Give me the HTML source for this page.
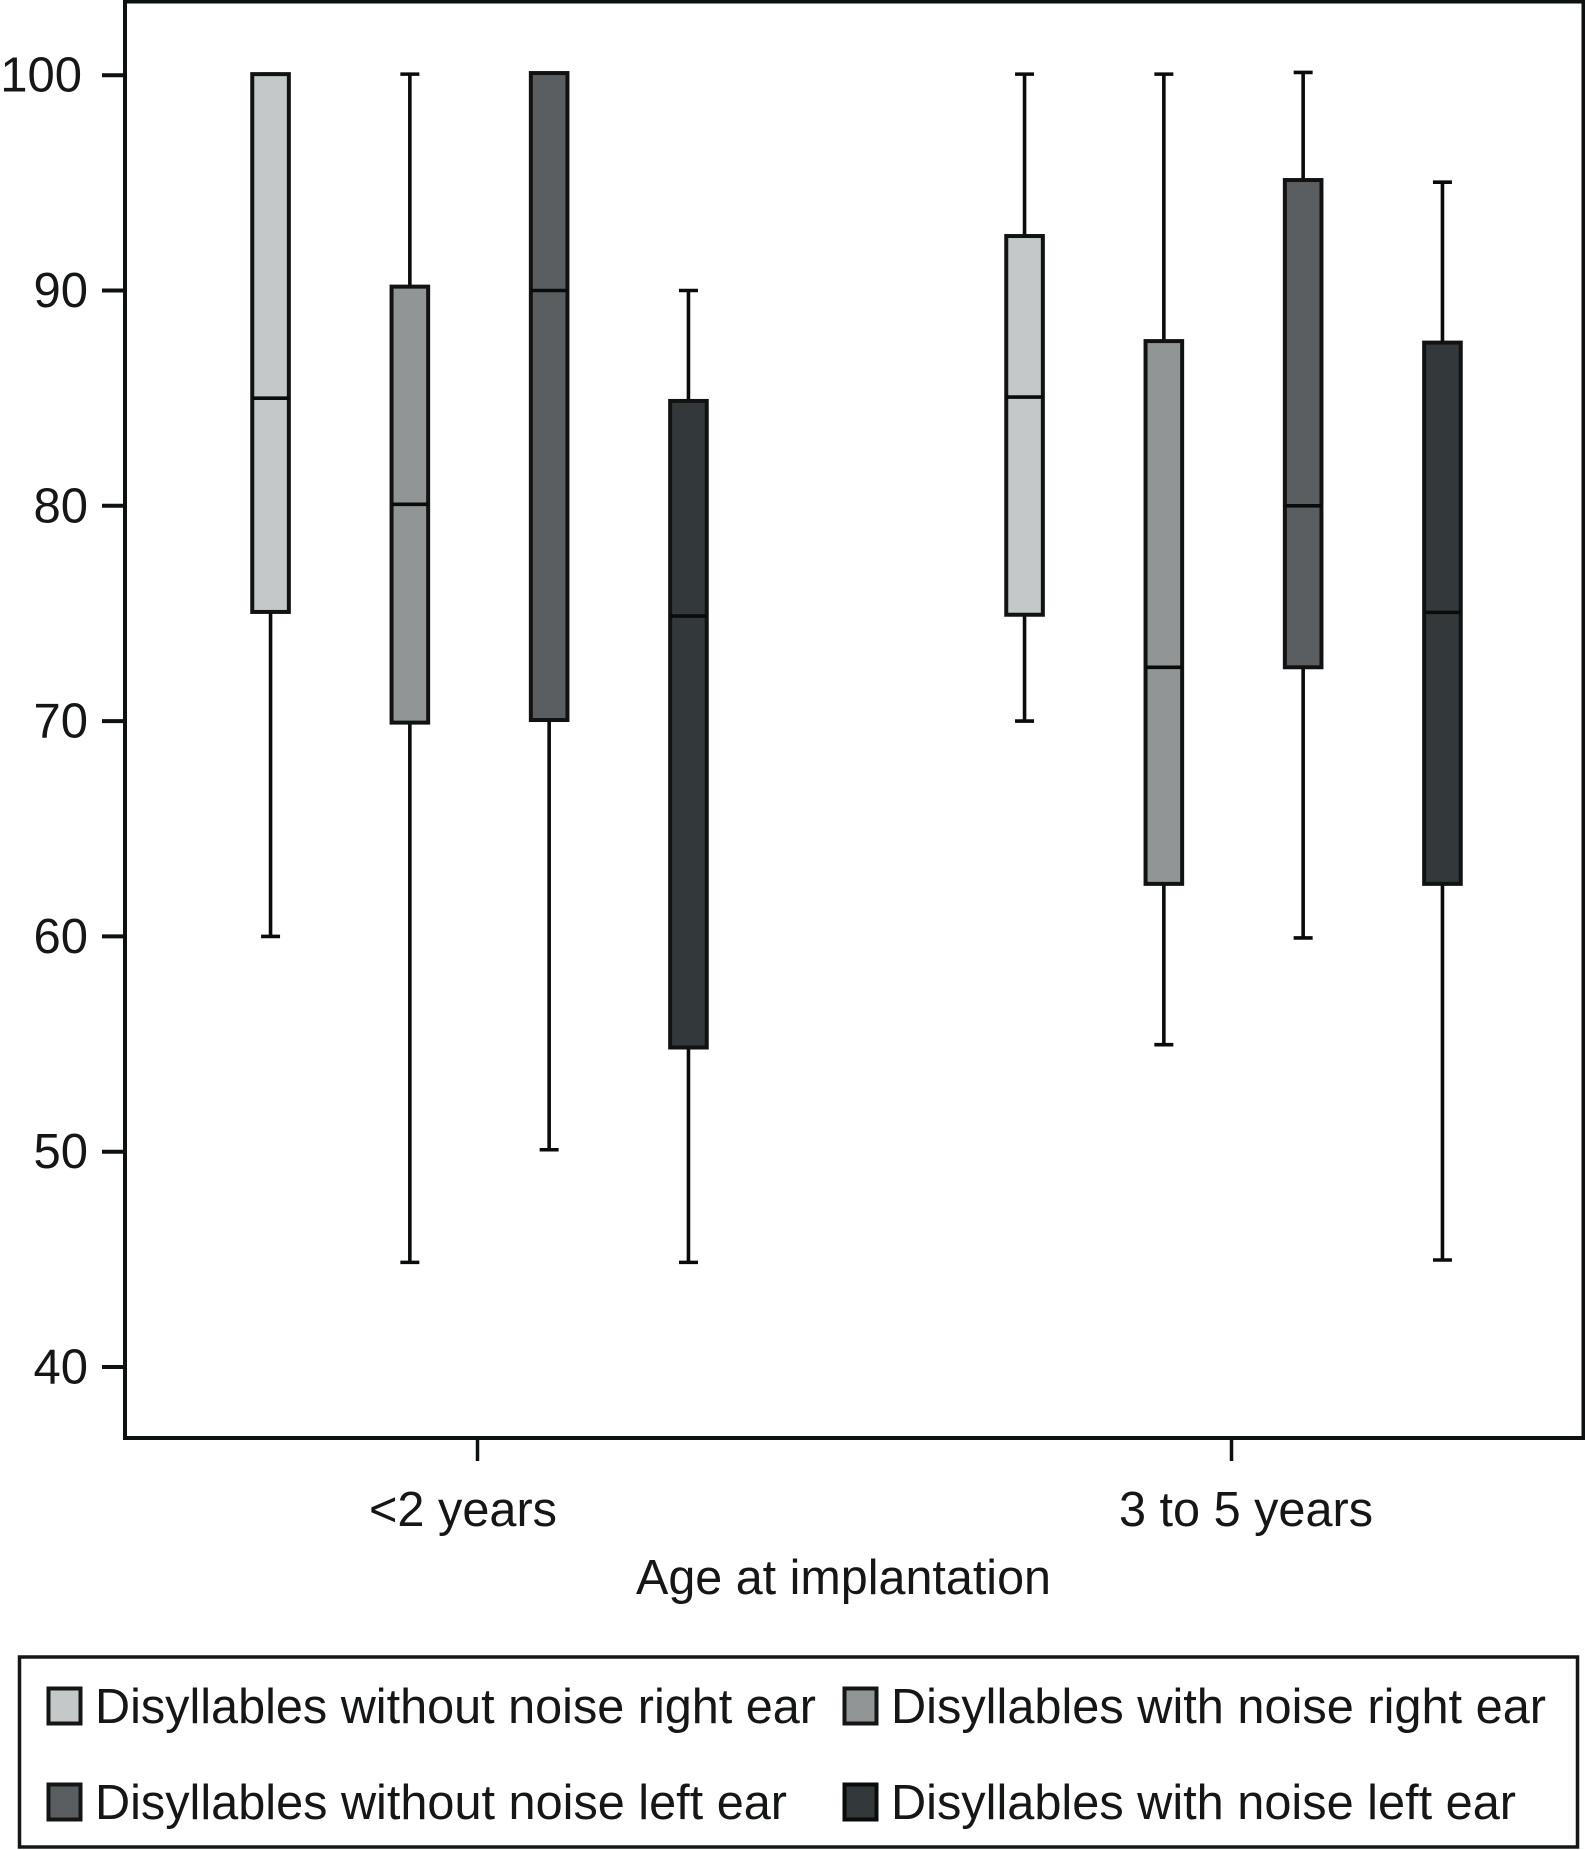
<!DOCTYPE html>
<html lang="en">
<head>
<meta charset="utf-8">
<title>Disyllable recognition by age at implantation</title>
<style>
  html, body { margin: 0; padding: 0; background: #fff; width: 1585px; height: 1850px; overflow: hidden; }
  svg { display: block; }
  text { font-family: "Liberation Sans", Arial, sans-serif; fill: #151717; font-size: 49px; }
</style>
</head>
<body>
<svg id="chart" xmlns="http://www.w3.org/2000/svg" width="1585" height="1850" viewBox="0 0 1585 1850">
  <rect x="125" y="1.5" width="1458.5" height="1436.5" fill="#fff" stroke="#0e1111" stroke-width="4"/>
  <g id="y-axis"></g>
  <g id="x-axis"></g>
  <g id="boxes"></g>

  <text x="369" y="1526" textLength="188" lengthAdjust="spacingAndGlyphs">&lt;2 years</text>
  <text x="1119" y="1526" textLength="254" lengthAdjust="spacingAndGlyphs">3 to 5 years</text>
  <text x="636" y="1594" textLength="415" lengthAdjust="spacingAndGlyphs">Age at implantation</text>

  <g>
    <rect x="19.5" y="1657" width="1558" height="190" fill="#fff" stroke="#151717" stroke-width="3.5"/>
    <g>
      <rect x="48.5" y="1688.5" width="32" height="35" fill="#c4c8c8" stroke="#141616" stroke-width="4"/>
      <text x="95" y="1723" textLength="721" lengthAdjust="spacingAndGlyphs">Disyllables without noise right ear</text>
    </g>
    <g>
      <rect x="844.5" y="1688.5" width="32" height="35" fill="#919595" stroke="#141616" stroke-width="4"/>
      <text x="891" y="1723" textLength="655" lengthAdjust="spacingAndGlyphs">Disyllables with noise right ear</text>
    </g>
    <g>
      <rect x="48.5" y="1784.5" width="32" height="35" fill="#5b5e60" stroke="#141616" stroke-width="4"/>
      <text x="95" y="1819" textLength="692" lengthAdjust="spacingAndGlyphs">Disyllables without noise left ear</text>
    </g>
    <g>
      <rect x="844.5" y="1784.5" width="32" height="35" fill="#33383a" stroke="#0a0c0c" stroke-width="4"/>
      <text x="891" y="1819" textLength="625" lengthAdjust="spacingAndGlyphs">Disyllables with noise left ear</text>
    </g>
  </g>
</svg>

<script>
// ---- chart data ----
const categories = ['<2 years', '3 to 5 years'];
const seriesNames = ['without-noise-right', 'with-noise-right', 'without-noise-left', 'with-noise-left'];
const yTickValues = [100, 90, 80, 70, 60, 50, 40];

// one entry per age group, in category order
const whiskerLow = [
  [60, 44.86, 50.09, 44.86],
  [70, 54.97, 59.93, 44.97]
];
const quartile1 = [
  [75.07, 69.93, 70.05, 54.84],
  [74.94, 62.44, 72.5, 62.44]
];
const medians = [
  [85, 80.07, 90, 74.88],
  [85.05, 72.5, 80, 75.05]
];
const quartile3 = [
  [100.05, 90.18, 100.1, 84.87],
  [92.53, 87.65, 95.13, 87.58]
];
const whiskerHigh = [
  [100.05, 100.05, 100.05, 90],
  [100.05, 100.05, 100.13, 95.03]
];

// ---- axis functions ----
const NS = 'http://www.w3.org/2000/svg';
const seriesFill = ['#c4c8c8', '#919595', '#5b5e60', '#33383a'];
const INK = '#0e1111';

function yScale(v) { return 75.2 + (100 - v) * 21.53; }
function groupCenter(g) { return 479.5 + g * 754; }
function xScale(g, s) { return groupCenter(g) + (s - 1.5) * 139.3; }

function make(tag, attrs, parent) {
  const el = document.createElementNS(NS, tag);
  for (const k in attrs) el.setAttribute(k, attrs[k]);
  parent.appendChild(el);
  return el;
}

// ---- y axis ----
const yAxis = document.getElementById('y-axis');
yTickValues.forEach(function (v) {
  const y = yScale(v);
  const tick = make('line', { x1: 102, x2: 125, y1: y, y2: y, stroke: INK, 'stroke-width': 4 }, yAxis);
  
  
  const label = make('text', { x: v === 100 ? 82 : 88, y: y + 16.5, 'text-anchor': 'end' }, yAxis);
  label.textContent = String(v);
  
  
});

// ---- x axis ----
const xAxis = document.getElementById('x-axis');
categories.forEach(function (c, g) {
  const x = groupCenter(g) - 2;
  const tick = make('line', { x1: x, x2: x, y1: 1438, y2: 1461, stroke: INK, 'stroke-width': 3.5 }, xAxis);
  
  
});

// ---- boxes ----
const boxLayer = document.getElementById('boxes');
categories.forEach(function (c, g) {
  seriesNames.forEach(function (name, s) {
    const x = xScale(g, s);
    const group = make('g', {}, boxLayer);
    
    

    const whisker = make('line', {
      x1: x, x2: x,
      y1: yScale(whiskerHigh[g][s]), y2: yScale(whiskerLow[g][s]),
      stroke: '#0a0c0c', 'stroke-width': 3.6
    }, group);
    
    

    [whiskerHigh[g][s], whiskerLow[g][s]].forEach(function (v) {
      const cap = make('line', {
        x1: x - 9.5, x2: x + 9.5,
        y1: yScale(v), y2: yScale(v),
        stroke: '#0a0c0c', 'stroke-width': 3.6
      }, group);
      
      
    });

    const top = yScale(quartile3[g][s]);
    const bottom = yScale(quartile1[g][s]);
    const box = make('rect', {
      x: x - 18.3, y: top, width: 36.6, height: bottom - top,
      fill: seriesFill[s], stroke: '#111313', 'stroke-width': 4
    }, group);
    
    

    const m = yScale(medians[g][s]);
    const median = make('line', {
      x1: x - 18.3, x2: x + 18.3, y1: m, y2: m,
      stroke: '#0a0c0c', 'stroke-width': 3.6
    }, group);
    
    
  });
});
</script>
</body>
</html>
